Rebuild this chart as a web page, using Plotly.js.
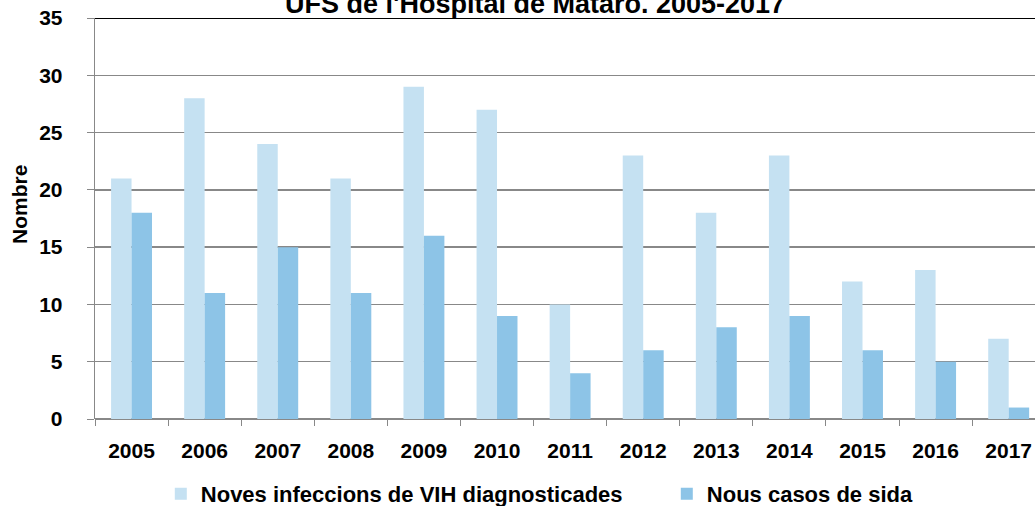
<!DOCTYPE html>
<html>
<head>
<meta charset="utf-8">
<script src="https://cdn.plot.ly/plotly-3.0.1.min.js"></script>
<style>html,body{margin:0;padding:0;background:#fff;}#chart{width:1035px;height:506px;}</style>
</head>
<body>
<div id="chart"></div>
<script>
const years = ['2005','2006','2007','2008','2009','2010','2011','2012','2013','2014','2015','2016','2017'];
const novesInfeccions = [21, 28, 24, 21, 29, 27, 10, 23, 18, 23, 12, 13, 7];
const nousCasosSida = [18, 11, 15, 11, 16, 9, 4, 6, 8, 9, 6, 5, 1];
const seriesNames = ['Noves infeccions de VIH diagnosticades', 'Nous casos de sida'];
const titleText = "UFS de l'Hospital de Mataró. 2005-2017";
const yTitle = 'Nombre';

const FONT = 'Liberation Sans, Arial, sans-serif';
const traces = [
  {type:'bar', x: years, y: novesInfeccions, name: seriesNames[0], legendwidth:461,
   marker:{color:'#C5E1F2', line:{width:0}}},
  {type:'bar', x: years, y: nousCasosSida, name: seriesNames[1],
   marker:{color:'#8DC4E7', line:{width:0}}}
];
const layout = {
  width:1035, height:506,
  margin:{l:95, r:0, t:18, b:87},
  paper_bgcolor:'#fff', plot_bgcolor:'#fff',
  barmode:'group', bargap:0.44, bargroupgap:0,
  font:{family:FONT, color:'#000'},
  xaxis:{type:'category', range:[-0.5, 12.36], tickson:'boundaries', ticks:'outside', ticklen:6,
         tickcolor:'#888', showline:false, showgrid:false, zeroline:false, ticklabelstandoff:17,
         tickfont:{size:21, family:FONT, weight:'bold'}},
  yaxis:{range:[0,35], dtick:5, ticks:'outside', ticklen:7, tickcolor:'#888', ticklabelstandoff:20,
         showline:true, linecolor:'#888', linewidth:1.3,
         showgrid:true, gridcolor:'#888', gridwidth:1.3,
         zeroline:true, zerolinecolor:'#888', zerolinewidth:1.3,
         tickfont:{size:21, family:FONT, weight:'bold'}},
  legend:{orientation:'h', x:0.07, xanchor:'left', yref:'container', y:0.024, yanchor:'middle',
          font:{size:22, family:FONT, weight:'bold'}, itemwidth:30, tracegroupgap:0},
  shapes:[{type:'line', xref:'paper', yref:'y', x0:0, x1:1, y0:35, y1:35, line:{color:'#000', width:2}}],
  annotations:[
    {text:'<b>'+titleText+'</b>', xref:'paper', yref:'paper', x:0.468, y:0.9925,
     xanchor:'center', yanchor:'bottom', showarrow:false, font:{size:27, family:FONT}},
    {text:'<b>'+yTitle+'</b>', xref:'paper', yref:'paper', x:-0.0803, y:0.535, textangle:-90,
     xanchor:'center', yanchor:'middle', showarrow:false, font:{size:21, family:FONT}}
  ]
};
Plotly.newPlot('chart', traces, layout, {displayModeBar:false, staticPlot:true});
</script>
</body>
</html>
